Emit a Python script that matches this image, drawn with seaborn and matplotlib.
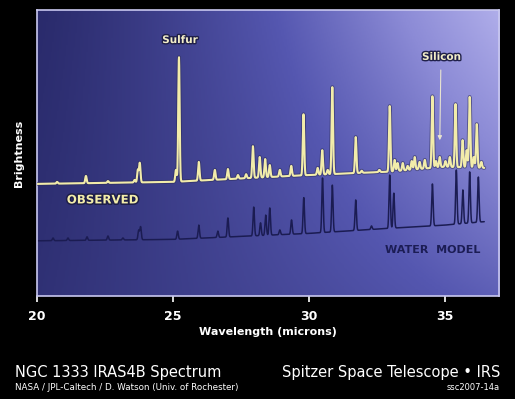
import numpy as np
import pandas as pd
import matplotlib
matplotlib.use("Agg")
import matplotlib.pyplot as plt
import matplotlib.patheffects as pe
from matplotlib.colors import LinearSegmentedColormap
import seaborn as sns

# ---------------- data ----------------
# Observed spectrum: continuum knots
obs_base_wl = [20.0, 25.0, 30.0, 33.0, 35.0, 36.45]
obs_base_val = [39.2, 39.9, 42.3, 43.5, 45.2, 44.8]
# Observed emission lines: wavelength (microns) and peak brightness
obs_line_wl = [21.81, 23.72, 23.79, 25.12, 25.23, 25.96, 26.55, 27.03, 27.40, 27.70,
               27.95, 28.20, 28.40, 28.57, 28.94, 29.36, 29.81, 30.33, 30.50, 30.70,
               30.87, 31.73, 31.95, 32.60, 32.98, 33.16, 33.27, 33.46, 33.64, 33.79,
               33.90, 34.08, 34.27, 34.55, 34.68, 34.82, 35.03, 35.19, 35.40, 35.66,
               35.81, 35.92, 36.07, 36.18, 36.35, 20.75, 22.62, 23.60]
obs_line_val = [42.0, 44.1, 46.5, 44.1, 83.6, 46.9, 44.1, 44.4, 42.3, 42.6,
                52.4, 48.6, 47.9, 45.8, 44.1, 45.5, 63.6, 44.8, 51.0, 44.1,
                73.1, 55.6, 43.8, 44.1, 66.4, 47.6, 46.5, 46.5, 45.5, 47.2,
                48.6, 46.9, 47.6, 69.9, 47.2, 48.6, 47.2, 48.6, 67.1, 54.5,
                51.0, 69.6, 48.6, 60.1, 46.9, 39.9, 40.2, 40.6]

# Water model: continuum knots
mod_base_wl = [20.0, 25.0, 30.0, 33.0, 35.0, 36.45]
mod_base_val = [19.3, 19.8, 21.9, 23.7, 24.8, 26.0]
# Water model lines
mod_line_wl = [20.60, 21.15, 21.85, 22.62, 23.17, 23.75, 23.82, 25.18, 25.96, 26.66,
               27.03, 27.98, 28.23, 28.42, 28.57, 28.94, 29.37, 29.82, 30.51, 30.87,
               31.73, 32.31, 32.98, 33.13, 34.55, 35.43, 35.67, 35.92, 36.24]
mod_line_val = [20.3, 20.3, 20.7, 21.0, 20.3, 23.0, 24.2, 22.7, 24.8, 22.7,
                27.3, 31.1, 25.6, 28.3, 30.8, 23.1, 26.6, 34.4, 41.3, 38.8,
                33.6, 24.5, 42.3, 36.0, 39.2, 44.1, 37.1, 43.4, 41.6]

x_ticks = [20, 25, 30, 35]
x_tick_labels = ["20", "25", "30", "35"]

# ---------------- build spectra ----------------
wl = np.arange(20.0, 36.46, 0.004)
sigma = 0.026


def spectrum(base_wl, base_val, line_wl, line_val):
    base = np.interp(wl, base_wl, base_val)
    y = base.copy()
    for c, top in zip(line_wl, line_val):
        amp = top - np.interp(c, base_wl, base_val)
        y += amp * np.exp(-0.5 * ((wl - c) / sigma) ** 2)
    return y


df = pd.concat([
    pd.DataFrame({"wavelength": wl,
                  "brightness": spectrum(obs_base_wl, obs_base_val, obs_line_wl, obs_line_val),
                  "series": "Observed"}),
    pd.DataFrame({"wavelength": wl,
                  "brightness": spectrum(mod_base_wl, mod_base_val, mod_line_wl, mod_line_val),
                  "series": "Water model"}),
])

# ---------------- figure ----------------
sns.set_theme(style="dark")
plt.rcParams["font.family"] = ["DejaVu Sans"]

fig = plt.figure(figsize=(5.15, 3.99), dpi=100, facecolor="black")
ax = fig.add_axes([0.0713, 0.258, 0.8977, 0.717])
ax.set_xlim(20, 37)
ax.set_ylim(0, 100)

# gradient background (dark navy lower/left -> lavender upper right)
bg_cmap = LinearSegmentedColormap.from_list(
    "bg", [(0.0, "#2a2b6c"), (0.45, "#5557b0"), (0.75, "#8c8bd6"), (1.0, "#b0aeea")])
u = np.linspace(0, 1, 300)[None, :]
v = np.linspace(1, 0, 200)[:, None]
t = (1 - v) * (0.06 + 0.44 * u) + v * (0.0 + 1.0 * u ** 1.2)
ax.imshow(bg_cmap(t), extent=[0, 1, 0, 1], transform=ax.transAxes, aspect="auto", zorder=0)

sns.lineplot(data=df[df.series == "Water model"], x="wavelength", y="brightness",
             color="#1b1c52", linewidth=1.1, estimator=None, sort=True, ax=ax, zorder=2)
sns.lineplot(data=df[df.series == "Observed"], x="wavelength", y="brightness",
             color="#f2ecaa", linewidth=1.5, estimator=None, sort=True, ax=ax, zorder=3,
             path_effects=[pe.Stroke(linewidth=2.8, foreground="#2a2a55", alpha=0.55), pe.Normal()])

# frame
for s in ax.spines.values():
    s.set_visible(True)
    s.set_color("#c9c8f0")
    s.set_linewidth(1.2)
ax.set_facecolor("#2b2c6e")

ax.set_xticks(x_ticks)
ax.set_xticklabels(x_tick_labels)
ax.set_yticks([])
ax.tick_params(axis="x", colors="white", direction="out", length=4, width=1.2,
               labelsize=9, pad=6, bottom=True)
for lbl in ax.get_xticklabels():
    lbl.set_fontweight("bold")
ax.set_xlabel("Wavelength (microns)", color="white", fontsize=8, fontweight="bold", labelpad=3)
ax.set_ylabel("Brightness", color="white", fontsize=8, fontweight="bold", labelpad=9)

shadow = [pe.withStroke(linewidth=2, foreground="#20204a")]
ax.text(25.27, 89.5, "Sulfur", color="#f3eec8", fontsize=7.5, fontweight="bold",
        ha="center", va="center", path_effects=shadow)
ax.text(34.89, 83.6, "Silicon", color="#f3eec8", fontsize=7.5, fontweight="bold",
        ha="center", va="center", path_effects=shadow)
ax.annotate("", xy=(34.82, 53.5), xytext=(34.86, 80.0),
            arrowprops=dict(arrowstyle="-|>", color="#e8e4d0", lw=0.8,
                            mutation_scale=6))
ax.text(22.42, 33.6, "OBSERVED", color="#f3edaa", fontsize=8.5, fontweight="bold",
        ha="center", va="center", path_effects=[pe.withStroke(linewidth=2.2, foreground="#1e1e48")])
ax.text(34.56, 16.1, "WATER  MODEL", color="#1c1d55", fontsize=8, fontweight="bold",
        ha="center", va="center")

# footer
fig.text(15 / 515, 1 - 372 / 399, "NGC 1333 IRAS4B Spectrum", color="white",
         fontsize=10.5, ha="left", va="center")
fig.text(15 / 515, 1 - 387 / 399, "NASA / JPL-Caltech / D. Watson (Univ. of Rochester)",
         color="white", fontsize=6.3, ha="left", va="center")
fig.text(500 / 515, 1 - 372 / 399, "Spitzer Space Telescope \u2022 IRS", color="white",
         fontsize=10.5, ha="right", va="center")
fig.text(500 / 515, 1 - 387 / 399, "ssc2007-14a", color="white",
         fontsize=6.0, ha="right", va="center")

fig.savefig("out.png", dpi=100, facecolor="black")
